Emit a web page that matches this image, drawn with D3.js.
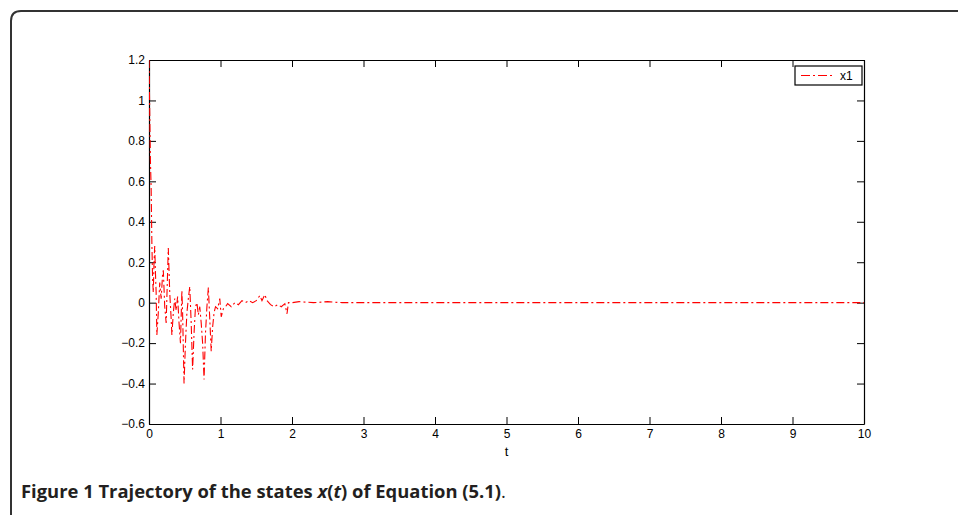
<!DOCTYPE html>
<html><head><meta charset="utf-8">
<script src="https://cdn.jsdelivr.net/npm/d3@7"></script>
<style>
html,body{margin:0;padding:0;background:#fff;}
svg{display:block;}
</style></head>
<body>
<svg id="c" width="958" height="515"></svg>
<script>
// ---- data ----
const tValues = [0,0.01,0.02,0.03,0.04,0.05,0.06,0.07,0.08,0.09,0.1,0.11,0.13,0.15,0.17,0.19,0.2,0.22,0.24,0.26,0.27,0.29,0.31,0.32,0.34,0.36,0.38,0.4,0.42,0.44,0.46,0.47,0.49,0.51,0.53,0.55,0.57,0.59,0.61,0.63,0.65,0.67,0.69,0.71,0.73,0.75,0.77,0.79,0.81,0.83,0.85,0.87,0.89,0.91,0.93,0.96,0.99,1.01,1.04,1.07,1.1,1.15,1.2,1.25,1.3,1.35,1.4,1.45,1.5,1.55,1.58,1.62,1.65,1.7,1.75,1.8,1.85,1.9,1.93,1.95,2.0,2.1,2.3,2.5,2.7,3,4,5,6,7,8,9,10];
const x1Values = [1.2,0.95,0.7,0.57,0.3,0.12,0.05,0.2,0.28,0.15,0.05,-0.16,-0.05,0.1,0.02,0.14,0.16,-0.02,-0.1,0.15,0.27,0.05,-0.08,-0.16,-0.05,0.02,-0.04,0.03,-0.1,-0.2,0.06,-0.05,-0.4,-0.2,-0.05,0.02,0.08,-0.1,-0.33,-0.15,-0.02,0.0,-0.06,-0.02,-0.1,-0.2,-0.38,-0.15,-0.02,0.075,-0.08,-0.24,-0.12,-0.05,-0.02,-0.03,0.02,-0.07,-0.03,-0.02,-0.005,-0.02,0.0,-0.01,0.01,0.0,0.01,0.0,0.01,0.035,0.01,0.04,0.01,-0.01,-0.02,-0.01,-0.02,-0.005,-0.055,0.0,0.0,0.005,0.0,0.005,0.0,0,0,0,0,0,0,0,0];
const xTicks = [0,1,2,3,4,5,6,7,8,9,10];
const yTicks = [-0.6,-0.4,-0.2,0,0.2,0.4,0.6,0.8,1,1.2];
const seriesName = "x1";
const xLabel = "t";

// ---- layout ----
const svg = d3.select("#c");
const L = 149, R = 864, T = 60, B = 424;
const x = d3.scaleLinear().domain([0,10]).range([L,R]);
const y = d3.scaleLinear().domain([-0.6,1.2]).range([B,T]);

// outer frame
svg.append("path")
  .attr("d", "M11,515 L11,21 Q11,11 21,11 L958,11")
  .attr("fill","none").attr("stroke","#333").attr("stroke-width",2);

const fmt = d => d < 0 ? "\u2212" + Math.abs(d) : String(d);
const axFont = "Liberation Sans, Arial, Helvetica, sans-serif";

// axes with inward ticks
const gB = svg.append("g").attr("transform",`translate(0,${B})`)
  .call(d3.axisBottom(x).tickValues(xTicks).tickSizeInner(-7).tickSizeOuter(0).tickPadding(4).tickFormat(d=>String(d)));
const gT = svg.append("g").attr("transform",`translate(0,${T})`)
  .call(d3.axisTop(x).tickValues(xTicks).tickSizeInner(-7).tickSizeOuter(0).tickFormat(""));
const gL = svg.append("g").attr("transform",`translate(${L},0)`)
  .call(d3.axisLeft(y).tickValues(yTicks).tickSizeInner(-7).tickSizeOuter(0).tickPadding(4).tickFormat(fmt));
const gR = svg.append("g").attr("transform",`translate(${R},0)`)
  .call(d3.axisRight(y).tickValues(yTicks).tickSizeInner(-7).tickSizeOuter(0).tickFormat(""));
[gB,gT,gL,gR].forEach(g=>{
  g.attr("font-family",null).attr("font-size",null);
  g.select(".domain").attr("stroke","#000").attr("stroke-width",1.2);
  g.selectAll(".tick line").attr("stroke","#000").attr("stroke-width",1);
  g.selectAll("text").style("font-family",axFont).style("font-size","12px").attr("fill","#000");
});
gB.selectAll("text").attr("dy","0.85em");

// x label
svg.append("text").attr("x",x(5)).attr("y",456).attr("text-anchor","middle")
  .style("font-family",axFont).style("font-size","13px").attr("fill","#000").text(xLabel);

// clip
svg.append("clipPath").attr("id","clip").append("rect")
  .attr("x",L).attr("y",T).attr("width",R-L).attr("height",B-T);

const data = tValues.map((t,i)=>({t, v:x1Values[i]}));
const line = d3.line().x(d=>x(d.t)).y(d=>y(d.v));
svg.append("path").datum(data).attr("d",line)
  .attr("clip-path","url(#clip)")
  .attr("fill","none").attr("stroke","#ff0000").attr("stroke-width",1.1)
  .attr("stroke-dasharray","8,3,2,3");

// legend
const lg = svg.append("g");
lg.append("rect").attr("x",795).attr("y",66).attr("width",67).attr("height",19)
  .attr("fill","#fff").attr("stroke","#000").attr("stroke-width",1.2);
lg.append("line").attr("x1",801).attr("x2",833).attr("y1",75.5).attr("y2",75.5)
  .attr("stroke","#ff0000").attr("stroke-width",1.1).attr("stroke-dasharray","9,3,2,3");
lg.append("text").attr("x",840).attr("y",80).style("font-family",axFont).style("font-size","12px")
  .attr("fill","#000").text(seriesName);

// caption
const cap = svg.append("text").attr("x",21).attr("y",498)
  .style("font-family","'Open Sans', 'Noto Sans', sans-serif").style("font-size","18.4px").attr("fill","#231f20");
cap.append("tspan").attr("font-weight","bold").text("Figure 1 Trajectory of the states ");
cap.append("tspan").attr("font-weight","bold").attr("font-style","italic").text("x");
cap.append("tspan").attr("font-weight","bold").text("(");
cap.append("tspan").attr("font-weight","bold").attr("font-style","italic").text("t");
cap.append("tspan").attr("font-weight","bold").text(") of Equation (5.1)");
cap.append("tspan").text(".");
</script>
</body></html>
